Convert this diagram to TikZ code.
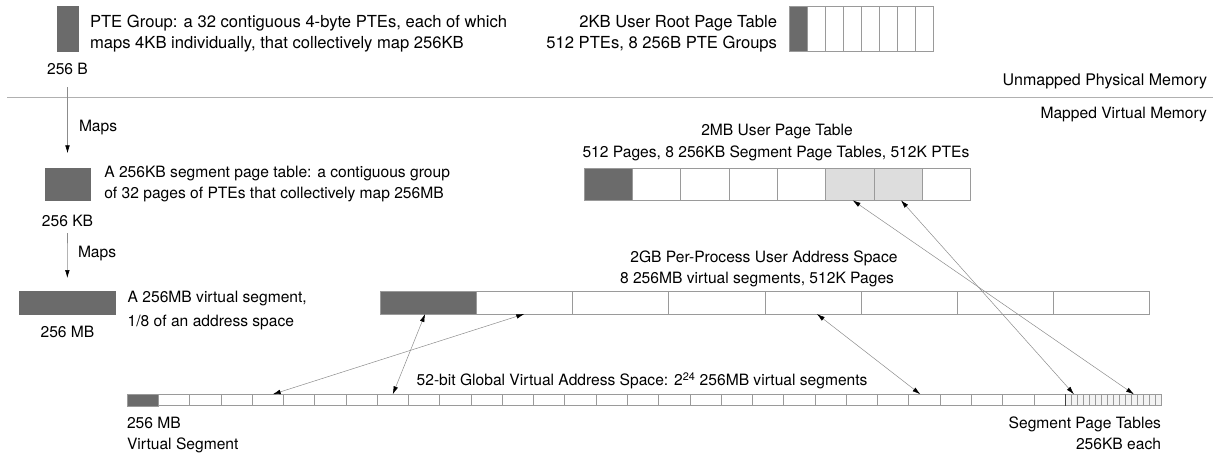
\documentclass[tikz,border=0pt]{standalone}
\usepackage{fontspec}
\setmainfont{TeX Gyre Heros}
\usetikzlibrary{arrows.meta}
\definecolor{darkcell}{HTML}{6B6B6B}
\definecolor{cellborder}{HTML}{9A9A9A}
\definecolor{lightcell}{HTML}{DDDDDD}
\definecolor{finecell}{HTML}{F3F3F3}
\definecolor{linegray}{HTML}{8C8C8C}
\definecolor{sepgray}{HTML}{B0B0B0}
\begin{document}
\begin{tikzpicture}[x=1pt,y=-1pt,
  every node/.style={font=\fontsize{15.6}{18}\selectfont, inner sep=0pt, outer sep=0pt},
  bigtext/.style={font=\fontsize{16.6}{19}\selectfont},
  midtext/.style={font=\fontsize{16}{19}\selectfont},
  cellbox/.style={draw=cellborder, line width=0.6pt, rectangle, fill=white},
  darkbox/.style={rectangle, fill=darkcell, draw=darkcell, line width=0.4pt},
  conn/.style={draw=linegray, line width=0.5pt, {Latex[length=8pt,width=4.6pt,color=black]}-{Latex[length=8pt,width=4.6pt,color=black]}},
  mapsarrow/.style={draw=linegray, line width=0.6pt, -{Latex[length=8pt,width=4.6pt,color=black]}},
  lbl/.style={anchor=base},
  lblw/.style={anchor=base west},
  lble/.style={anchor=base east}
]
\useasboundingbox (0,0) rectangle (1213,455);

% separator line
\coordinate (sepL) at (7,97);
\coordinate (sepR) at (1213,97);
\draw[sepgray, line width=0.8pt] (sepL) -- (sepR);
\node[lble, midtext] (unmapped) at (1207,85.5) {Unmapped Physical Memory};
\node[lble] (mapped) at (1207,118.5) {Mapped Virtual Memory};

% 256 B PTE group
\node[darkbox, minimum width=20.5pt, minimum height=45.5pt] (pteg) at (67.75,28.75) {};
\node[lbl] (lblB) at (67.5,74.5) {256 B};
\node[lblw, bigtext] (pteA) at (90,27.5) {PTE Group: a 32 contiguous 4-byte PTEs, each of which};
\node[lblw, bigtext] (pteB) at (90,48.8) {maps 4KB individually, that collectively map 256KB};

% root page table
\foreach \i in {1,...,8} {
  \node[cellbox, minimum width=18pt, minimum height=45pt] (r\i) at ({789+(\i-1)*18+9},28.5) {};
}
\node[darkbox, draw=cellborder, minimum width=18pt, minimum height=45pt] at (r1) {};
\node[lble, bigtext] (rootA) at (777,27.5) {2KB User Root Page Table};
\node[lble, bigtext] (rootB) at (777,48.8) {512 PTEs, 8 256B PTE Groups};

% 256 KB segment page table
\node[darkbox, minimum width=45pt, minimum height=31.7pt] (segtbl) at (67.5,184.2) {};
\node[lbl] (lblKB) at (67.5,226.5) {256 KB};
\node[lblw] (segA) at (104.3,177.2) {A 256KB segment page table: a contiguous group};
\node[lblw] (segB) at (104.3,198.5) {of 32 pages of PTEs that collectively map 256MB};
\draw[mapsarrow, shorten <=12.5pt, shorten >=15pt] (lblB.south) -- (segtbl.north);
\node[lblw] (maps1) at (79,131.5) {Maps};

% 256 MB virtual segment
\node[darkbox, minimum width=96.7pt, minimum height=23.3pt] (vseg) at (67.3,302.7) {};
\node[lbl] (lblMB) at (67.5,337.5) {256 MB};
\node[lblw] (vsA) at (127.7,302.5) {A 256MB virtual segment,};
\node[lblw] (vsB) at (127.7,326.5) {1/8 of an address space};
\draw[mapsarrow, shorten <=6.5pt, shorten >=13pt] (lblKB.south) -- (vseg.north);
\node[lblw] (maps2) at (78,257.5) {Maps};

% 2MB user page table
\foreach \i in {1,...,8} {
  \node[cellbox, minimum width=48.3pt, minimum height=32pt] (p\i) at ({584+(\i-1)*48.3+24.15},184.3) {};
}
\node[darkbox, draw=cellborder, minimum width=48.3pt, minimum height=32pt] at (p1) {};
\node[cellbox, fill=lightcell, minimum width=48.3pt, minimum height=32pt] at (p6) {};
\node[cellbox, fill=lightcell, minimum width=48.3pt, minimum height=32pt] at (p7) {};
\node[lbl] (ptA) at (777,135.5) {2MB User Page Table};
\node[lbl] (ptB) at (776,157.2) {512 Pages, 8 256KB Segment Page Tables, 512K PTEs};

% 2GB address space
\foreach \i in {1,...,8} {
  \node[cellbox, minimum width=96.2pt, minimum height=23pt] (a\i) at ({380+(\i-1)*96.2+48.1},302.5) {};
}
\node[darkbox, draw=cellborder, minimum width=96.2pt, minimum height=23pt] at (a1) {};
\node[lbl] (asA) at (764,262) {2GB Per-Process User Address Space};
\node[lbl] (asB) at (757,283.7) {8 256MB virtual segments, 512K Pages};

% 52-bit global virtual address space strip
\foreach \i in {1,...,30} {
  \node[cellbox, minimum width=31.27pt, minimum height=11.4pt] (g\i) at ({127+(\i-1)*31.27+15.635},400) {};
}
\node[darkbox, draw=cellborder, minimum width=31.27pt, minimum height=11.4pt] at (g1) {};
\foreach \i in {1,...,16} {
  \node[cellbox, fill=finecell, line width=0.5pt, minimum width=6pt, minimum height=11.4pt] (f\i) at ({1065+(\i-1)*6+3},400) {};
}
\draw[black!75, line width=0.9pt] (f1.north west) -- (f1.south west);
\node[lblw] (gA) at (416.7,385.5) {52-bit Global Virtual Address Space: 2\textsuperscript{24} 256MB virtual segments};
\node[lblw] (gB) at (127,428.5) {256 MB};
\node[lblw] (gC) at (127,449.5) {Virtual Segment};
\node[lble] (gD) at (1161,428.5) {Segment Page Tables};
\node[lble] (gE) at (1161,449.5) {256KB each};

% connectors
\draw[conn] ([xshift=5pt]g5.north) -- (a2.south);
\draw[conn] (g9.north) -- ([xshift=-3pt]a1.south);
\draw[conn] ([xshift=-4pt]g26.north) -- ([xshift=4pt]a5.south);
\draw[conn] (f2.north) -- ([xshift=3pt]p7.south);
\draw[conn] (f12.north) -- ([xshift=3pt]p6.south);
\end{tikzpicture}
\end{document}
